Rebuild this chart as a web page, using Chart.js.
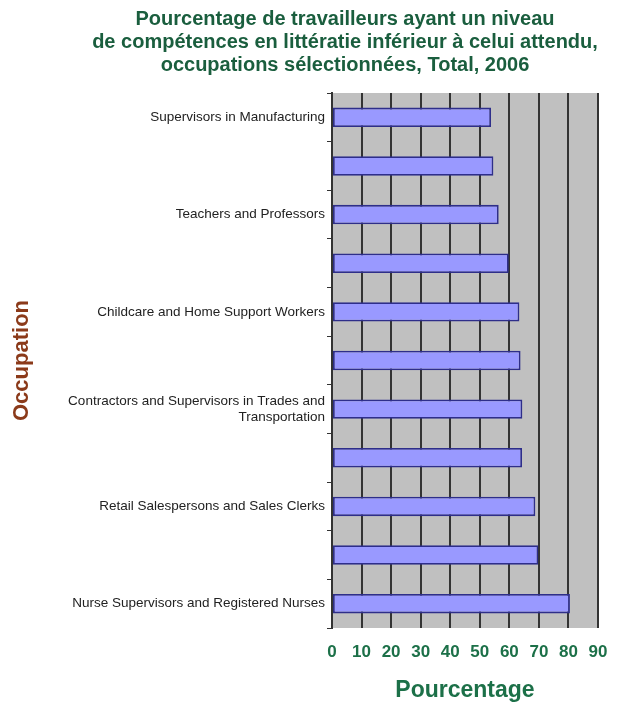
<!DOCTYPE html>
<html>
<head>
<meta charset="utf-8">
<script src="https://cdn.jsdelivr.net/npm/chart.js@4/dist/chart.umd.min.js"></script>
<style>
  html, body { margin: 0; padding: 0; background: #ffffff; }
  #wrap { width: 625px; height: 705px; }
</style>
</head>
<body>
<div id="wrap"><canvas id="chart" width="625" height="705"></canvas></div>
<script>
const titleLines = [
  'Pourcentage de travailleurs ayant un niveau',
  'de compétences en littératie inférieur à celui attendu,',
  'occupations sélectionnées, Total, 2006'
];
// only every other occupation is labelled in the original
const occupations = [
  'Supervisors in Manufacturing',
  '',
  'Teachers and Professors',
  '',
  'Childcare and Home Support Workers',
  '',
  ['Contractors and Supervisors in Trades and', 'Transportation'],
  '',
  'Retail Salespersons and Sales Clerks',
  '',
  'Nurse Supervisors and Registered Nurses'
];
const percentages = [53.8, 54.6, 56.4, 59.8, 63.4, 63.8, 64.4, 64.3, 68.8, 69.8, 80.5];
const xMin = 0;
const xMax = 90;
const xStep = 10;

const green = '#1c7048';

// grey plot area, and the title centred a bit right of the canvas middle like the original
const plotBackground = {
  id: 'plotBackground',
  afterLayout(chart) {
    if (chart.titleBlock) {
      chart.titleBlock.left = 92;
    }
  },
  beforeDraw(chart) {
    const { ctx, chartArea } = chart;
    ctx.save();
    ctx.fillStyle = '#c0c0c0';
    ctx.fillRect(chartArea.left, chartArea.top, chartArea.right - chartArea.left, chartArea.bottom - chartArea.top);
    ctx.restore();
  }
};

new Chart(document.querySelector('#chart'), {
  type: 'bar',
  data: {
    labels: occupations,
    datasets: [{
      label: 'Pourcentage',
      data: percentages,
      backgroundColor: '#9999ff',
      borderColor: '#2e2e8a',
      borderWidth: 1.8,
      borderSkipped: false,
      categoryPercentage: 1,
      barPercentage: 0.4
    }]
  },
  plugins: [plotBackground],
  options: {
    indexAxis: 'y',
    responsive: false,
    animation: false,
    layout: { padding: { left: 0, right: 27, top: 0, bottom: 1 } },
    plugins: {
      legend: { display: false },
      tooltip: { enabled: false },
      title: {
        display: true,
        text: titleLines,
        color: '#1a5e3e',
        font: { family: 'Liberation Sans', size: 20, weight: 'bold', lineHeight: 1.15 },
        padding: { top: 8, bottom: 16 }
      }
    },
    scales: {
      x: {
        min: xMin,
        max: xMax,
        ticks: {
          stepSize: xStep,
          color: green,
          padding: 14,
          font: { family: 'Liberation Sans', size: 17, weight: 'bold' }
        },
        grid: { color: '#333333', lineWidth: 2, drawTicks: false },
        border: { display: false },
        title: {
          display: true,
          text: 'Pourcentage',
          color: green,
          font: { family: 'Liberation Sans', size: 23, weight: 'bold' },
          padding: { top: 0, bottom: 0 }
        }
      },
      y: {
        afterFit(scale) {
          scale.width = 332;
        },
        ticks: {
          color: '#222222',
          padding: 2,
          autoSkip: false,
          font: { family: 'Liberation Sans', size: 13.5 }
        },
        grid: { drawOnChartArea: false, color: '#333333', tickLength: 5 },
        border: { color: '#333333', width: 2 },
        title: {
          display: true,
          text: 'Occupation',
          color: '#8b3a1a',
          font: { family: 'Liberation Sans', size: 22, weight: 'bold' },
          padding: { top: 9, bottom: 0 }
        }
      }
    }
  }
});
</script>
</body>
</html>
